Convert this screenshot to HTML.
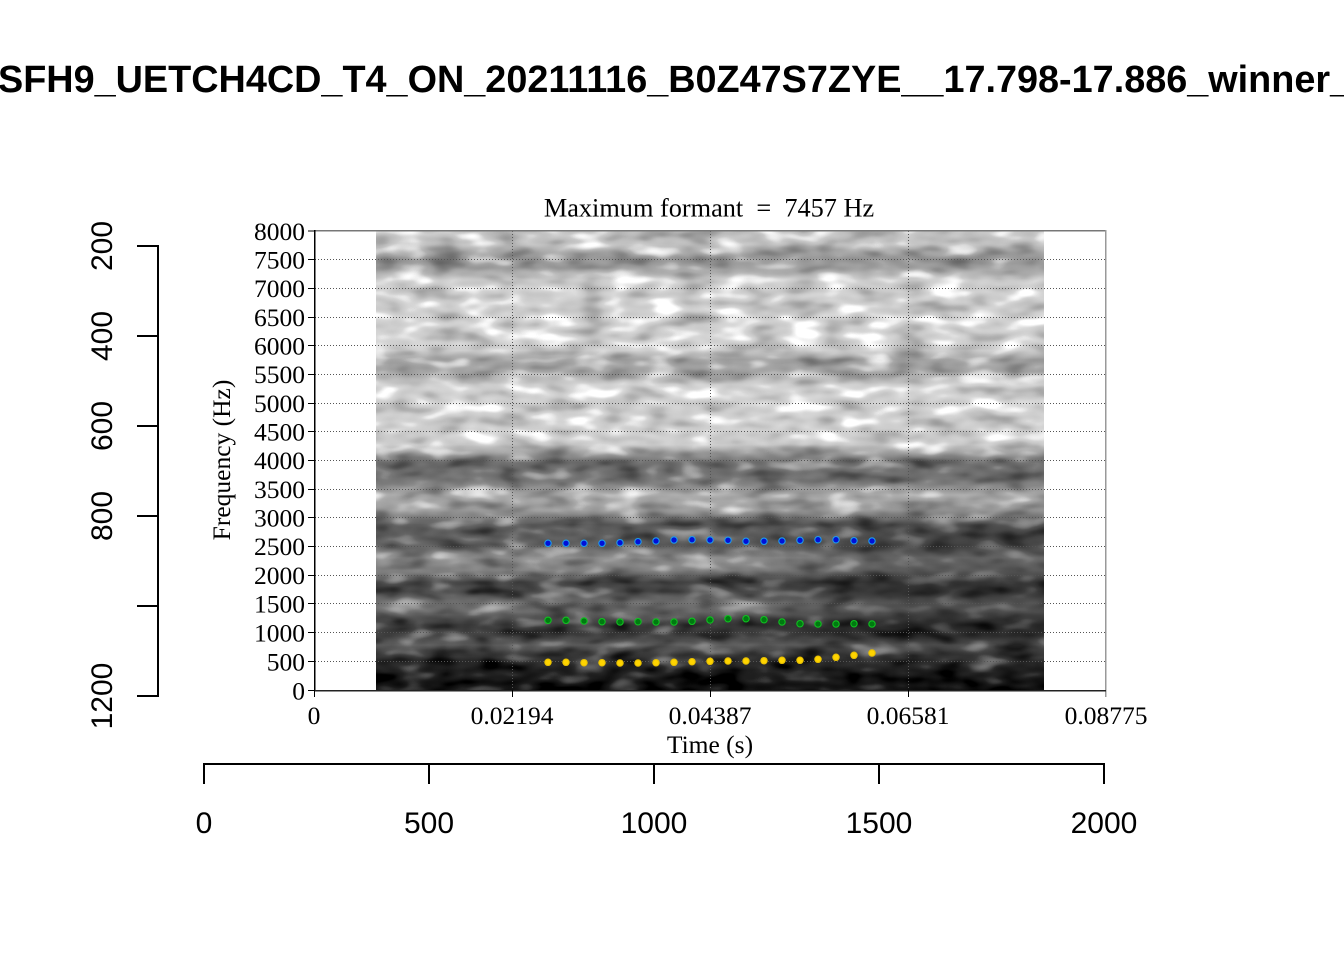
<!DOCTYPE html>
<html>
<head>
<meta charset="utf-8">
<style>
html,body{margin:0;padding:0;background:#fff;}
body{width:1344px;height:960px;overflow:hidden;}
svg{display:block;}
.serif{font-family:"Liberation Serif","DejaVu Serif",serif;}
.sans{font-family:"Liberation Sans","DejaVu Sans",sans-serif;}
</style>
</head>
<body>
<svg width="1344" height="960" viewBox="0 0 1344 960" xmlns="http://www.w3.org/2000/svg">
  <defs>
    <linearGradient id="band" x1="0" y1="0" x2="0" y2="1">
      <stop offset="0" stop-color="rgb(194,194,194)"/>
      <stop offset="0.03" stop-color="rgb(194,194,194)"/>
      <stop offset="0.059" stop-color="rgb(148,148,148)"/>
      <stop offset="0.08" stop-color="rgb(158,158,158)"/>
      <stop offset="0.107" stop-color="rgb(204,204,204)"/>
      <stop offset="0.26" stop-color="rgb(209,209,209)"/>
      <stop offset="0.28" stop-color="rgb(158,158,158)"/>
      <stop offset="0.307" stop-color="rgb(163,163,163)"/>
      <stop offset="0.335" stop-color="rgb(209,209,209)"/>
      <stop offset="0.466" stop-color="rgb(204,204,204)"/>
      <stop offset="0.503" stop-color="rgb(107,107,107)"/>
      <stop offset="0.542" stop-color="rgb(115,115,115)"/>
      <stop offset="0.575" stop-color="rgb(168,168,168)"/>
      <stop offset="0.608" stop-color="rgb(158,158,158)"/>
      <stop offset="0.64" stop-color="rgb(92,92,92)"/>
      <stop offset="0.684" stop-color="rgb(97,97,97)"/>
      <stop offset="0.712" stop-color="rgb(148,148,148)"/>
      <stop offset="0.739" stop-color="rgb(133,133,133)"/>
      <stop offset="0.765" stop-color="rgb(71,71,71)"/>
      <stop offset="0.786" stop-color="rgb(77,77,77)"/>
      <stop offset="0.81" stop-color="rgb(117,117,117)"/>
      <stop offset="0.83" stop-color="rgb(107,107,107)"/>
      <stop offset="0.858" stop-color="rgb(56,56,56)"/>
      <stop offset="0.882" stop-color="rgb(66,66,66)"/>
      <stop offset="0.902" stop-color="rgb(97,97,97)"/>
      <stop offset="0.924" stop-color="rgb(56,56,56)"/>
      <stop offset="0.956" stop-color="rgb(31,31,31)"/>
      <stop offset="1" stop-color="rgb(15,15,15)"/>
    </linearGradient>
    <linearGradient id="rdark" x1="0" y1="0" x2="1" y2="0">
      <stop offset="0" stop-color="#000" stop-opacity="0"/>
      <stop offset="0.55" stop-color="#000" stop-opacity="0.05"/>
      <stop offset="0.8" stop-color="#000" stop-opacity="0.35"/>
      <stop offset="1" stop-color="#000" stop-opacity="0.3"/>
    </linearGradient>
    <linearGradient id="rdarkv" x1="0" y1="0" x2="0" y2="1">
      <stop offset="0" stop-color="#fff" stop-opacity="0"/>
      <stop offset="0.3" stop-color="#fff" stop-opacity="1"/>
      <stop offset="0.85" stop-color="#fff" stop-opacity="1"/>
      <stop offset="1" stop-color="#fff" stop-opacity="0"/>
    </linearGradient>
    <mask id="rmask">
      <rect x="376" y="500" width="668" height="160" fill="url(#rdarkv)"/>
    </mask>
    <filter id="tex" x="0" y="0" width="100%" height="100%" color-interpolation-filters="sRGB">
      <feTurbulence type="fractalNoise" baseFrequency="0.028 0.07" numOctaves="2" seed="11" result="n"/>
      <feColorMatrix in="n" type="matrix" values="1 0 0 0 0  1 0 0 0 0  1 0 0 0 0  0 0 0 0 1" result="g"/>
      <feComponentTransfer in="g" result="g2">
        <feFuncR type="table" tableValues="0.15 0.15 0.3 0.45 0.55 0.8 1 1"/>
        <feFuncG type="table" tableValues="0.15 0.15 0.3 0.45 0.55 0.8 1 1"/>
        <feFuncB type="table" tableValues="0.15 0.15 0.3 0.45 0.55 0.8 1 1"/>
      </feComponentTransfer>
      <feComposite in="SourceGraphic" in2="g2" operator="arithmetic" k1="0" k2="1" k3="0.6" k4="-0.3"/>
    </filter>
  </defs>

  <!-- main title -->
  <text class="sans" x="-2" y="92" font-size="37.8" font-weight="bold" fill="#000">SFH9_UETCH4CD_T4_ON_20211116_B0Z47S7ZYE__17.798-17.886_winner_</text>

  <!-- spectrogram -->
  <rect x="376" y="231" width="668" height="459" fill="url(#band)" filter="url(#tex)"/>
  <rect x="376" y="500" width="668" height="160" fill="url(#rdark)" mask="url(#rmask)"/>

  <!-- grid -->
  <g stroke="#555" stroke-width="1" stroke-dasharray="1 2" shape-rendering="crispEdges" fill="none">
    <line x1="315" y1="661.5" x2="1106" y2="661.5"/>
    <line x1="315" y1="632.5" x2="1106" y2="632.5"/>
    <line x1="315" y1="603.5" x2="1106" y2="603.5"/>
    <line x1="315" y1="575.5" x2="1106" y2="575.5"/>
    <line x1="315" y1="546.5" x2="1106" y2="546.5"/>
    <line x1="315" y1="517.5" x2="1106" y2="517.5"/>
    <line x1="315" y1="489.5" x2="1106" y2="489.5"/>
    <line x1="315" y1="460.5" x2="1106" y2="460.5"/>
    <line x1="315" y1="431.5" x2="1106" y2="431.5"/>
    <line x1="315" y1="403.5" x2="1106" y2="403.5"/>
    <line x1="315" y1="374.5" x2="1106" y2="374.5"/>
    <line x1="315" y1="345.5" x2="1106" y2="345.5"/>
    <line x1="315" y1="317.5" x2="1106" y2="317.5"/>
    <line x1="315" y1="288.5" x2="1106" y2="288.5"/>
    <line x1="315" y1="259.5" x2="1106" y2="259.5"/>
    <line x1="512.5" y1="231" x2="512.5" y2="690"/>
    <line x1="710.5" y1="231" x2="710.5" y2="690"/>
    <line x1="908.5" y1="231" x2="908.5" y2="690"/>
  </g>

  <!-- plot box -->
  <g shape-rendering="crispEdges" fill="none">
    <line x1="314" y1="230.5" x2="1106" y2="230.5" stroke="#777" stroke-width="1.5"/>
    <line x1="1105.5" y1="230" x2="1105.5" y2="697" stroke="#999" stroke-width="1.5"/>
    <line x1="314.5" y1="230" x2="314.5" y2="691" stroke="#000" stroke-width="1.5"/>
    <line x1="314" y1="690.5" x2="1106" y2="690.5" stroke="#222" stroke-width="1.5"/>
  </g>

  <!-- y ticks -->
  <g stroke="#000" stroke-width="1.2" shape-rendering="crispEdges">
    <line x1="308" y1="690.5" x2="314" y2="690.5"/>
    <line x1="308" y1="661.5" x2="314" y2="661.5"/>
    <line x1="308" y1="632.5" x2="314" y2="632.5"/>
    <line x1="308" y1="603.5" x2="314" y2="603.5"/>
    <line x1="308" y1="575.5" x2="314" y2="575.5"/>
    <line x1="308" y1="546.5" x2="314" y2="546.5"/>
    <line x1="308" y1="517.5" x2="314" y2="517.5"/>
    <line x1="308" y1="489.5" x2="314" y2="489.5"/>
    <line x1="308" y1="460.5" x2="314" y2="460.5"/>
    <line x1="308" y1="431.5" x2="314" y2="431.5"/>
    <line x1="308" y1="403.5" x2="314" y2="403.5"/>
    <line x1="308" y1="374.5" x2="314" y2="374.5"/>
    <line x1="308" y1="345.5" x2="314" y2="345.5"/>
    <line x1="308" y1="317.5" x2="314" y2="317.5"/>
    <line x1="308" y1="288.5" x2="314" y2="288.5"/>
    <line x1="308" y1="259.5" x2="314" y2="259.5"/>
    <line x1="308" y1="231" x2="314" y2="231"/>
    <line x1="314.5" y1="690" x2="314.5" y2="697"/>
    <line x1="512.5" y1="690" x2="512.5" y2="697"/>
    <line x1="710.5" y1="690" x2="710.5" y2="697"/>
    <line x1="908.5" y1="690" x2="908.5" y2="697"/>
  </g>

  <g class="serif" font-size="25.5" fill="#000" text-anchor="end">
    <text x="305" y="699.5">0</text>
    <text x="305" y="670.5">500</text>
    <text x="305" y="641.5">1000</text>
    <text x="305" y="612.5">1500</text>
    <text x="305" y="584">2000</text>
    <text x="305" y="555">2500</text>
    <text x="305" y="526.5">3000</text>
    <text x="305" y="498">3500</text>
    <text x="305" y="469">4000</text>
    <text x="305" y="440.5">4500</text>
    <text x="305" y="412">5000</text>
    <text x="305" y="383">5500</text>
    <text x="305" y="354.5">6000</text>
    <text x="305" y="326">6500</text>
    <text x="305" y="297">7000</text>
    <text x="305" y="268.5">7500</text>
    <text x="305" y="240">8000</text>
  </g>
  <g class="serif" font-size="25.5" fill="#000" text-anchor="middle">
    <text x="314" y="724">0</text>
    <text x="512" y="724">0.02194</text>
    <text x="710" y="724">0.04387</text>
    <text x="908" y="724">0.06581</text>
    <text x="1106" y="724">0.08775</text>
    <text x="710" y="753">Time (s)</text>
    <text transform="translate(230,460) rotate(-90)">Frequency (Hz)</text>
  </g>
  <text class="serif" font-size="26.3" fill="#000" text-anchor="middle" x="709" y="216.5" xml:space="preserve">Maximum formant  =  7457 Hz</text>

  <!-- formant dots -->
  <g stroke-width="1.1">
    <g fill="#0010d8" stroke="#1e9be8">
      <circle cx="548" cy="543.3" r="3.2"/><circle cx="566" cy="543.3" r="3.2"/><circle cx="584" cy="543.3" r="3.2"/><circle cx="602" cy="543.3" r="3.2"/><circle cx="620" cy="542.7" r="3.2"/><circle cx="638" cy="541.7" r="3.2"/><circle cx="656" cy="541" r="3.2"/><circle cx="674" cy="540" r="3.2"/><circle cx="692" cy="539.7" r="3.2"/><circle cx="710" cy="540" r="3.2"/><circle cx="728" cy="540.3" r="3.2"/><circle cx="746" cy="541.3" r="3.2"/><circle cx="764" cy="541.3" r="3.2"/><circle cx="782" cy="541" r="3.2"/><circle cx="800" cy="540.3" r="3.2"/><circle cx="818" cy="539.7" r="3.2"/><circle cx="836" cy="539.7" r="3.2"/><circle cx="854" cy="540.7" r="3.2"/><circle cx="872" cy="541" r="3.2"/>
    </g>
    <g fill="#007a10" stroke="#10c020">
      <circle cx="548" cy="620.3" r="3.2"/><circle cx="566" cy="620.3" r="3.2"/><circle cx="584" cy="621" r="3.2"/><circle cx="602" cy="621.7" r="3.2"/><circle cx="620" cy="622" r="3.2"/><circle cx="638" cy="621.7" r="3.2"/><circle cx="656" cy="622" r="3.2"/><circle cx="674" cy="622" r="3.2"/><circle cx="692" cy="621.3" r="3.2"/><circle cx="710" cy="620" r="3.2"/><circle cx="728" cy="618.7" r="3.2"/><circle cx="746" cy="618.7" r="3.2"/><circle cx="764" cy="619.7" r="3.2"/><circle cx="782" cy="622" r="3.2"/><circle cx="800" cy="623.7" r="3.2"/><circle cx="818" cy="624" r="3.2"/><circle cx="836" cy="624" r="3.2"/><circle cx="854" cy="623.7" r="3.2"/><circle cx="872" cy="624" r="3.2"/>
    </g>
    <g fill="#ffd400" stroke="#e8c000">
      <circle cx="548" cy="662.3" r="3.2"/><circle cx="566" cy="662.3" r="3.2"/><circle cx="584" cy="662.7" r="3.2"/><circle cx="602" cy="662.7" r="3.2"/><circle cx="620" cy="663" r="3.2"/><circle cx="638" cy="663" r="3.2"/><circle cx="656" cy="662.7" r="3.2"/><circle cx="674" cy="662.3" r="3.2"/><circle cx="692" cy="661.7" r="3.2"/><circle cx="710" cy="661.3" r="3.2"/><circle cx="728" cy="661" r="3.2"/><circle cx="746" cy="661" r="3.2"/><circle cx="764" cy="660.7" r="3.2"/><circle cx="782" cy="660.3" r="3.2"/><circle cx="800" cy="660.3" r="3.2"/><circle cx="818" cy="659.3" r="3.2"/><circle cx="836" cy="657.3" r="3.2"/><circle cx="854" cy="655.3" r="3.2"/><circle cx="872" cy="653" r="3.2"/>
    </g>
  </g>

  <!-- outer left axis -->
  <g stroke="#000" stroke-width="2" fill="none">
    <line x1="158" y1="245" x2="158" y2="697"/>
    <line x1="137" y1="246" x2="158" y2="246"/>
    <line x1="137" y1="336" x2="158" y2="336"/>
    <line x1="137" y1="426" x2="158" y2="426"/>
    <line x1="137" y1="516" x2="158" y2="516"/>
    <line x1="137" y1="606" x2="158" y2="606"/>
    <line x1="137" y1="696" x2="158" y2="696"/>
  </g>
  <g class="sans" font-size="30" fill="#000" text-anchor="middle">
    <text transform="translate(112,246) rotate(-90)">200</text>
    <text transform="translate(112,336) rotate(-90)">400</text>
    <text transform="translate(112,426) rotate(-90)">600</text>
    <text transform="translate(112,516) rotate(-90)">800</text>
    <text transform="translate(112,696) rotate(-90)">1200</text>
  </g>

  <!-- outer bottom axis -->
  <g stroke="#000" stroke-width="2" fill="none">
    <line x1="203" y1="764" x2="1105" y2="764"/>
    <line x1="204" y1="764" x2="204" y2="784"/>
    <line x1="429" y1="764" x2="429" y2="784"/>
    <line x1="654" y1="764" x2="654" y2="784"/>
    <line x1="879" y1="764" x2="879" y2="784"/>
    <line x1="1104" y1="764" x2="1104" y2="784"/>
  </g>
  <g class="sans" font-size="30" fill="#000" text-anchor="middle">
    <text x="204" y="833">0</text>
    <text x="429" y="833">500</text>
    <text x="654" y="833">1000</text>
    <text x="879" y="833">1500</text>
    <text x="1104" y="833">2000</text>
  </g>
</svg>
</body>
</html>
